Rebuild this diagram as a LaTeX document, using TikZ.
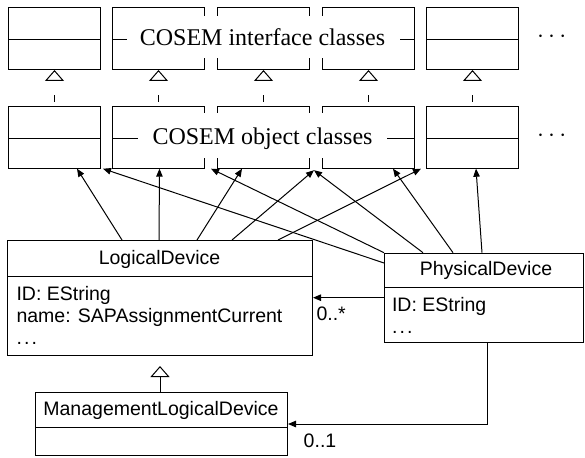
\documentclass[tikz,border=0pt]{standalone}
\usepackage{fontspec}
\setmainfont{Liberation Serif}
\setsansfont{Liberation Sans}
\usetikzlibrary{arrows.meta,calc}
\newcommand{\sdots}{.\kern2.2pt.\kern2.2pt.}
\begin{document}
\begin{tikzpicture}[x=1pt,y=-1pt,line width=1pt,
  cbox/.style={draw,rectangle,inner sep=0pt,anchor=north west,minimum width=92pt,minimum height=62pt},
  ubox/.style={draw,rectangle,inner sep=0pt,anchor=north west},
  sans/.style={font=\sffamily\fontsize{19.5}{23}\selectfont,inner sep=0pt},
  serif/.style={font=\rmfamily\fontsize{24}{28}\selectfont,inner sep=0pt},
  wlab/.style={fill=white,inner sep=0pt,rectangle},
  assoc/.style={-{Triangle[length=8pt,width=6.5pt]}},
  inh/.style={dash pattern=on 7pt off 14pt,dash phase=17pt,-{Triangle[open,length=11pt,width=19pt]}},
  gen/.style={-{Triangle[open,length=11pt,width=19pt]}}]
\useasboundingbox (0,0) rectangle (585,457);
% top row
\foreach \i/\x in {1/8,2/112,3/217,4/322,5/426}{
  \node[cbox] (t\i) at (\x,7) {};
  \draw (t\i.west |- 0,40) -- (t\i.east |- 0,40);
  \node[cbox] (m\i) at (\x,105.7) {};
  \draw (m\i.west |- 0,139) -- (m\i.east |- 0,139);
}
\node[wlab,minimum width=273pt,minimum height=42pt] (tl) at (263.5,37) {};
\node[serif,anchor=base] (tt) at (262.5,45.5) {COSEM interface classes};
\node[wlab,minimum width=249pt,minimum height=45pt] (ml) at (262.5,135.5) {};
\node[serif,anchor=base] (mt) at (262.5,144.5) {COSEM object classes};
\node[serif,anchor=base] (d1) at (551.7,43) {$\cdots$};
\node[serif,anchor=base] (d2) at (551.7,142) {$\cdots$};
% inheritance between rows
\foreach \i in {1,...,5}{
  \draw[inh] (m\i.north) -- (t\i.south);
}
% LogicalDevice
\node[ubox,minimum width=305pt,minimum height=115pt] (ld) at (7,240) {};
\draw (ld.west |- 0,276.7) -- (ld.east |- 0,276.7);
\node[sans,anchor=base] (ldt) at (159.5,264) {LogicalDevice};
\node[sans,anchor=base west] (lda) at (16,300) {ID: EString};
\node[sans,anchor=base west] (ldb) at (16,322.5) {name: SAPAssignmentCurrent};
\node[sans,anchor=base west] (ldc) at (16,344.5) {\sdots};
% PhysicalDevice
\node[ubox,minimum width=199pt,minimum height=89pt] (pd) at (384,252.7) {};
\draw (pd.west |- 0,287.7) -- (pd.east |- 0,287.7);
\node[sans,anchor=base] (pdt) at (486,275.5) {PhysicalDevice};
\node[sans,anchor=base west] (pda) at (391.5,311.7) {ID: EString};
\node[sans,anchor=base west] (pdc) at (391.5,333) {\sdots};
% ManagementLogicalDevice
\node[ubox,minimum width=252pt,minimum height=63pt] (mld) at (35,392) {};
\draw (mld.west |- 0,427) -- (mld.east |- 0,427);
\node[sans,anchor=base] (mldt) at (161,415) {ManagementLogicalDevice};
% associations from LogicalDevice
\draw[assoc] ([xshift=115pt]ld.north west) -- ([xshift=69pt]m1.south west);
\draw[assoc] ([xshift=152pt]ld.north west) -- ([xshift=1pt]m2.south);
\draw[assoc] ([xshift=190pt]ld.north west) -- ([xshift=25pt]m3.south west);
\draw[assoc] ([xshift=225pt]ld.north west) -- ([xshift=4pt,yshift=-1.5pt]m3.south east);
\draw[assoc] ([xshift=271pt]ld.north west) -- ([xshift=6pt]m4.south east);
% associations from PhysicalDevice
\draw[assoc] ([yshift=-10.3pt]pd.north west) -- ([xshift=2pt]m1.south east);
\draw[assoc] (pd.north west) -- ([xshift=6pt]m2.south east);
\draw[assoc] ([xshift=39pt]pd.north west) -- ([xshift=4pt,yshift=-1.5pt]m3.south east);
\draw[assoc] ([xshift=69pt]pd.north west) -- ([xshift=71pt]m4.south west);
\draw[assoc] ([xshift=98pt]pd.north west) -- ([xshift=50pt]m5.south west);
% PD -> LD
\draw[assoc] (pd.west |- 0,297.7) -- (ld.east |- 0,297.7);
\node[sans,anchor=base west] (m0s) at (316,320) {0..*};
% generalization
\coordinate (gtip) at (160,366);
\draw[gen] (mld.north -| gtip) -- (gtip);
% PD -> MLD
\coordinate (bend) at (487,424);
\draw[assoc] (pd.south -| bend) -- (bend) -- (mld.east |- bend);
\node[sans,anchor=base] (m01) at (320,447) {0..1};
\end{tikzpicture}
\end{document}
